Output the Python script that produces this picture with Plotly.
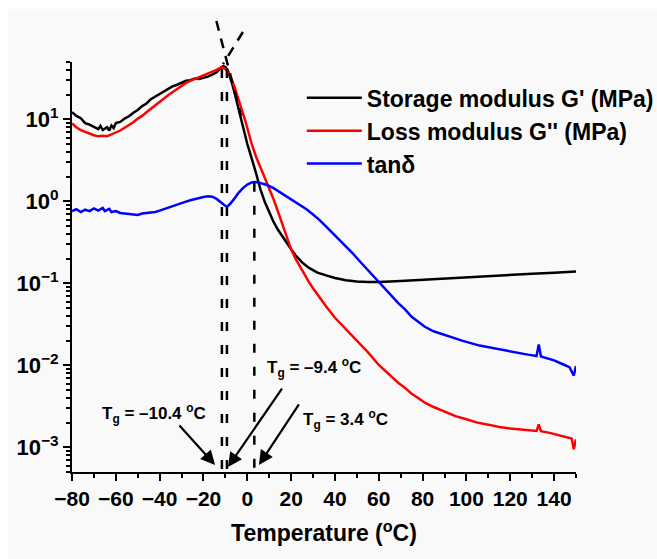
import numpy as np
import plotly.graph_objects as go

# ---------------- data ----------------
temp_storage = [-80, -78, -76, -74, -72, -70, -68, -67, -66, -64, -63, -62, -61, -60, -58, -56, -54, -52, -50,
                -48, -46, -44, -42, -40, -38, -36, -34, -32, -30, -28, -26, -24, -22, -20, -18, -16, -14,
                -13, -12, -11, -10, -9, -8, -7, -6, -5, -4, -3, -2, -1, 0, 1, 2, 3, 4, 5, 6, 8, 10, 12, 14,
                16, 18, 20, 22, 25, 28, 32, 36, 40, 45, 50, 55, 60, 70, 80, 90, 100, 110, 120, 130, 140, 150]
storage_mod = [12.2, 11.0, 10.3, 9.0, 8.6, 8.0, 7.6, 8.3, 7.4, 8.0, 7.3, 8.4, 7.8, 9.0, 9.3, 10.2, 10.9, 12.0, 13.0,
               14.5, 15.6, 17.6, 19.0, 20.2, 22.0, 23.5, 25.3, 26.4, 27.8, 29.5, 30.0, 31.5, 31.0, 32.0, 33.2, 35.0, 37.5,
               40.0, 43.0, 44.5, 43.5, 40.0, 34.0, 27.5, 22.0, 17.0, 13.5, 10.5, 8.3, 6.4, 5.0, 4.1, 3.4, 2.8, 2.2, 1.75, 1.4, 0.98, 0.72, 0.56, 0.45,
               0.37, 0.31, 0.26, 0.22, 0.18, 0.155, 0.135, 0.125, 0.116, 0.109, 0.105, 0.104, 0.104, 0.107, 0.111, 0.115, 0.119, 0.123, 0.127, 0.131, 0.135, 0.139]

temp_loss = [-80, -78, -76, -74, -72, -70, -68, -66, -64, -62, -60, -58, -56, -54, -52, -50, -48, -46, -44, -42,
             -40, -38, -36, -34, -32, -30, -28, -26, -24, -22, -20, -18, -16, -14, -12, -11, -10, -9, -8, -7, -6,
             -5, -4, -3, -2, -1, 0, 1, 2, 4, 6, 8, 10, 12, 14, 16, 18, 20, 22, 24, 26, 28, 30, 33, 36, 40, 45, 50,
             55, 60, 63, 66, 69, 72, 75, 78, 81, 85, 90, 95, 100, 105, 110, 115, 120, 125, 130, 132, 133, 134, 138,
             142, 145, 148, 149, 150]
loss_mod = [8.9, 8.0, 7.4, 7.0, 6.7, 6.4, 6.2, 6.3, 6.2, 6.5, 6.9, 7.3, 7.9, 8.5, 9.2, 10.2, 11.0, 12.2, 13.5, 15.0,
            16.2, 18.0, 19.8, 21.5, 23.5, 25.5, 27.8, 29.5, 31.0, 33.0, 34.5, 36.0, 38.0, 40.0, 43.0, 42.5, 41.0, 38.5, 35.0, 30.5, 25.5,
            21.0, 17.0, 13.8, 11.8, 9.8, 7.8, 6.2, 5.0, 3.5, 2.6, 1.95, 1.45, 1.06, 0.75, 0.53, 0.37, 0.26, 0.2, 0.16, 0.13, 0.105, 0.087, 0.066, 0.052, 0.038, 0.0275, 0.0200,
            0.0145, 0.0101, 0.0085, 0.0073, 0.0061, 0.0053, 0.0045, 0.0040, 0.0035, 0.0031, 0.0027, 0.0024, 0.0022, 0.0020, 0.00189, 0.00177, 0.00170, 0.00165, 0.00160, 0.00158, 0.0019, 0.00157, 0.00150,
            0.00140, 0.00133, 0.00128, 0.00095, 0.00125]

temp_tan = [-80, -78, -76, -74, -72, -70, -68, -66, -65, -63, -62, -60, -58, -56, -54, -52, -50, -48, -46, -44, -42,
            -40, -38, -36, -34, -32, -30, -28, -26, -24, -22, -20, -18, -17, -16, -14, -12, -10, -9, -8, -6, -4,
            -2, 0, 2, 3.4, 5, 7, 9, 12, 15, 18, 21, 24, 27, 30, 33, 36, 39, 42, 45, 48, 51, 54, 57, 60, 63, 66,
            69, 72, 75, 78, 81, 85, 91, 98, 106, 114, 121.5, 128, 132, 133, 134, 140, 144, 147, 149, 150]
tan_delta = [0.76, 0.80, 0.74, 0.79, 0.76, 0.82, 0.77, 0.83, 0.76, 0.81, 0.74, 0.76, 0.72, 0.71, 0.70, 0.70, 0.68, 0.71, 0.72, 0.72, 0.74,
             0.77, 0.80, 0.84, 0.87, 0.91, 0.95, 0.99, 1.03, 1.07, 1.10, 1.13, 1.15, 1.15, 1.14, 1.07, 0.97, 0.88, 0.87, 0.92, 1.07, 1.27,
             1.45, 1.60, 1.70, 1.72, 1.70, 1.65, 1.58, 1.45, 1.29, 1.15, 1.02, 0.91, 0.80, 0.69, 0.59, 0.49, 0.41, 0.34, 0.28, 0.234, 0.19, 0.155, 0.126, 0.102, 0.085, 0.069,
             0.057, 0.048, 0.039, 0.034, 0.0295, 0.026, 0.023, 0.020, 0.0174, 0.0158, 0.0145, 0.0135, 0.0130, 0.018, 0.0128, 0.0115, 0.0103, 0.0095, 0.0075, 0.0098]

x_tick_vals = [-80, -60, -40, -20, 0, 20, 40, 60, 80, 100, 120, 140]
y_tick_vals = [1e-3, 1e-2, 1e-1, 1, 10]
y_tick_text = ["10<sup>\u22123</sup>", "10<sup>\u22122</sup>", "10<sup>\u22121</sup>", "10<sup>0</sup>", "10<sup>1</sup>"]

# guide lines (temperature, value)
tg_lines = [(-11.6, 41.0, 5e-4), (-9.3, 41.0, 5e-4), (3.2, 1.68, 4.6e-4)]
tangent_lines = [((-14.1, 158.0), (-2.9, 11.0)), ((-2.0, 116.0), (-11.1, 47.0))]

# arrow annotations: label, label position (T, value), head (T, value), tail offset in px
tg_labels = [
    ("T<sub>g</sub> = \u201310.4 <sup>o</sup>C", (-42.8, 2.6e-3), (-14.7, 6.1e-4), (-37, -41)),
    ("T<sub>g</sub> = \u20139.4 <sup>o</sup>C", (30.4, 9.3e-3), (-8.8, 5.75e-4), (55, -80)),
    ("T<sub>g</sub> = 3.4 <sup>o</sup>C", (45.0, 2.2e-3), (5.3, 6.1e-4), (41, -62)),
]

XR = [-80, 150]
YR = [np.log10(5e-4), np.log10(50)]


def to_paper(t, v):
    return (t - XR[0]) / (XR[1] - XR[0]), (np.log10(v) - YR[0]) / (YR[1] - YR[0])


FONT = "Liberation Sans, Arial, sans-serif"

fig = go.Figure()
fig.add_trace(go.Scatter(x=temp_storage, y=storage_mod, mode="lines", name="Storage modulus G' (MPa)",
                         line=dict(color="#000000", width=2.5)))
fig.add_trace(go.Scatter(x=temp_loss, y=loss_mod, mode="lines", name="Loss modulus G'' (MPa)",
                         line=dict(color="#FF0000", width=2.5)))
fig.add_trace(go.Scatter(x=temp_tan, y=tan_delta, mode="lines", name="tan\u03b4",
                         line=dict(color="#0000FF", width=2.5)))

shapes = []
for t, vtop, vbot in tg_lines:
    x0, y0 = to_paper(t, vtop)
    _, y1 = to_paper(t, vbot)
    shapes.append(dict(type="line", xref="paper", yref="paper", x0=x0, x1=x0, y0=y0, y1=y1,
                       line=dict(color="black", width=2.5, dash="9px,14px")))
for (t0, v0), (t1, v1) in tangent_lines:
    a0, b0 = to_paper(t0, v0)
    a1, b1 = to_paper(t1, v1)
    shapes.append(dict(type="line", xref="paper", yref="paper", x0=a0, y0=b0, x1=a1, y1=b1,
                       line=dict(color="black", width=2.5, dash="10px,8px")))
# white outer margin of the original picture (top and left strips)
shapes.append(dict(type="rect", xref="paper", yref="paper", x0=-0.2, x1=1.2, y0=1.13, y1=1.2,
                   fillcolor="white", line=dict(width=0), layer="below"))
shapes.append(dict(type="rect", xref="paper", yref="paper", x0=-0.2, x1=-0.127, y0=-0.3, y1=1.2,
                   fillcolor="white", line=dict(width=0), layer="below"))

annotations = []
for text, (lt, lv), (ht, hv), (axp, ayp) in tg_labels:
    annotations.append(dict(x=lt, y=np.log10(lv), xref="x", yref="y", text=text, showarrow=False,
                            font=dict(family=FONT, size=17, color="black", weight="bold")))
    annotations.append(dict(x=ht, y=np.log10(hv), xref="x", yref="y", text="", showarrow=True,
                            ax=axp, ay=ayp, arrowhead=2, arrowsize=1.3, arrowwidth=2.2,
                            arrowcolor="black", standoff=0))

fig.update_layout(
    width=657, height=559,
    margin=dict(l=72, r=81, t=62, b=87, autoexpand=False),
    paper_bgcolor="#F9F9F9", plot_bgcolor="#F9F9F9",
    font=dict(family=FONT, color="black"),
    showlegend=True,
    legend=dict(x=0.456, y=0.965, xanchor="left", yanchor="top", bgcolor="rgba(0,0,0,0)",
                font=dict(family=FONT, size=23, color="black", weight="bold"),
                itemwidth=55, tracegroupgap=0),
    shapes=shapes,
    annotations=annotations,
)
fig.update_xaxes(range=XR, showgrid=False, zeroline=False, showline=True, linecolor="black", linewidth=2,
                 ticks="outside", ticklen=7, tickwidth=2, tickcolor="black",
                 tickmode="array", tickvals=x_tick_vals,
                 tickfont=dict(family=FONT, size=21, color="black", weight="bold"),
                 minor=dict(ticks="outside", ticklen=4, tickwidth=1.5, tickcolor="black", dtick=10, tick0=-80, showgrid=False),
                 title=dict(text="Temperature (<sup>o</sup>C)", standoff=16,
                            font=dict(family=FONT, size=23, color="black", weight="bold")))
minor_y = [m * 10.0 ** e for e in range(-4, 2) for m in range(2, 10)]
fig.update_yaxes(type="log", range=YR, showgrid=False, zeroline=False, showline=True, linecolor="black", linewidth=2,
                 ticks="outside", ticklen=7, tickwidth=2, tickcolor="black",
                 tickmode="array", tickvals=y_tick_vals, ticktext=y_tick_text,
                 tickfont=dict(family=FONT, size=22, color="black", weight="bold"),
                 minor=dict(ticks="outside", ticklen=4, tickwidth=1.5, tickcolor="black", tickmode="array", tickvals=minor_y,
                            showgrid=False))

fig.write_html("out.html")
